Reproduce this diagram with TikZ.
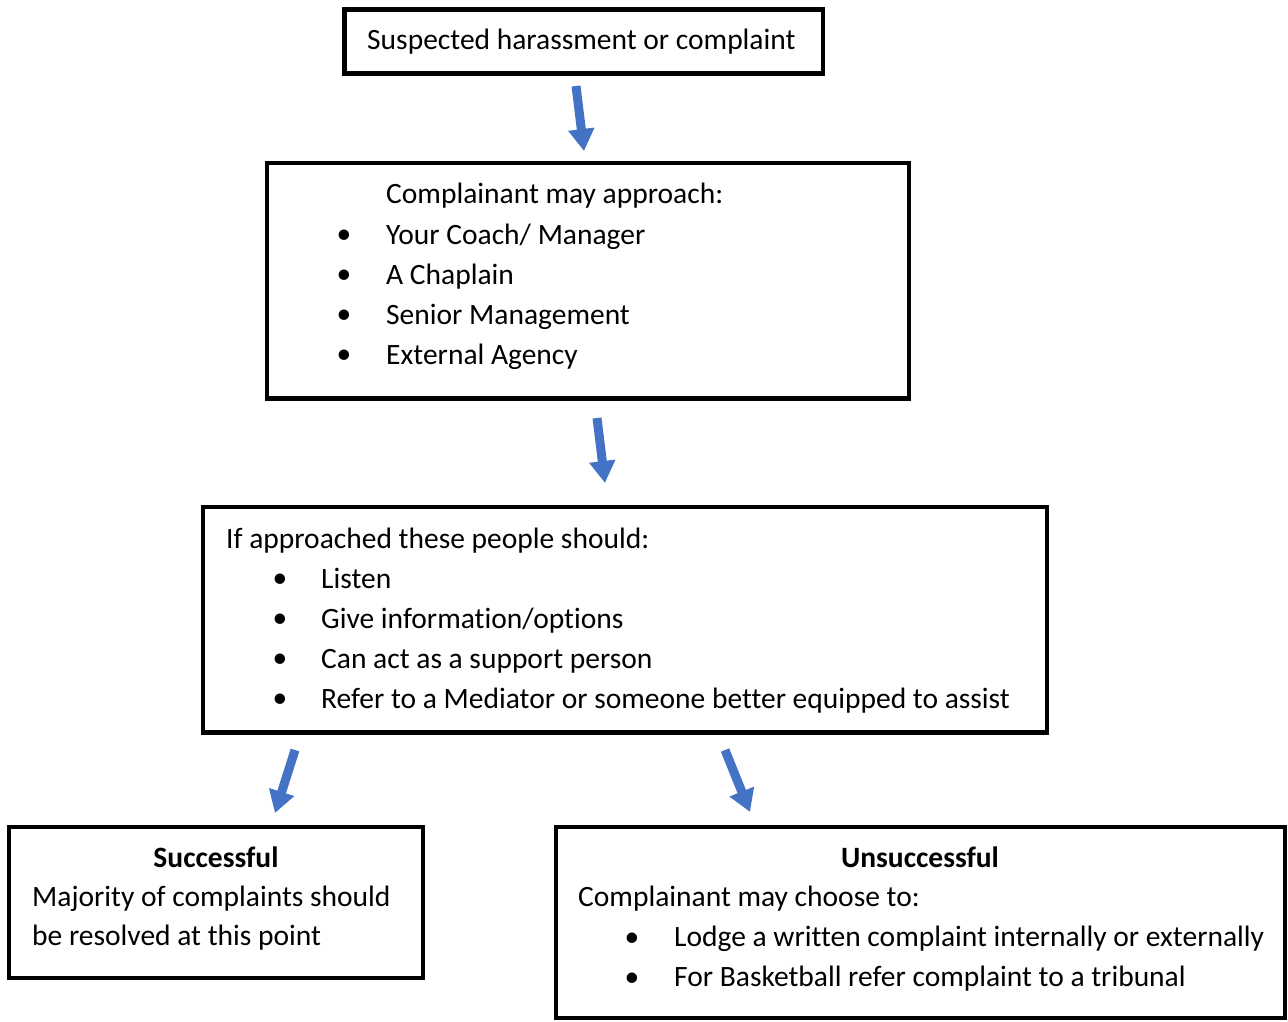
\documentclass[tikz,border=0pt]{standalone}
\usepackage{fontspec}
\setmainfont{Carlito}[Ligatures=NoCommon]
\usetikzlibrary{arrows.meta}
\definecolor{arrowblue}{HTML}{4472C4}

\begin{document}
\begin{tikzpicture}[x=1pt,y=-1pt,
      font=\fontsize{29.5}{40}\selectfont,
      box/.style={draw,line width=4.5pt,rectangle,anchor=north west,inner sep=0pt,outer sep=0pt},
      txt/.style={anchor=base west,inner sep=0pt},
      dot/.style={anchor=base,inner sep=0pt},
      flow/.style={draw=arrowblue,line width=9pt,-{Triangle[length=22pt,width=25pt]}}]
      \useasboundingbox (0,0) rectangle (1288,1021);
      \node[box,minimum width=478.5pt,minimum height=64pt] (start) at (344.5,9.5) {};
      \node[box,minimum width=642pt,minimum height=235.5pt] (approach) at (267,163) {};
      \node[box,minimum width=844pt,minimum height=225.5pt] (should) at (203,507) {};
      \node[box,minimum width=414pt,minimum height=151pt] (success) at (9,827) {};
      \node[box,minimum width=729pt,minimum height=191pt] (fail) at (556,827) {};

      \node[txt] (t1) at (367,49) {Suspected harassment or complaint};

      \node[txt] (a0) at (386,203) {Complainant may approach:};
      \node[dot] at (344,243) {•}; \node[txt] (a1) at (386,244) {Your Coach/ Manager};
      \node[dot] at (344,283) {•}; \node[txt] (a2) at (386,284) {A Chaplain};
      \node[dot] at (344,323) {•}; \node[txt] (a3) at (386,324) {Senior Management};
      \node[dot] at (344,363) {•}; \node[txt] (a4) at (386,364) {External Agency};

      \node[txt] (s0) at (226,548) {If approached these people should:};
      \node[dot] at (280,587) {•}; \node[txt] (s1) at (321,588) {Listen};
      \node[dot] at (280,627) {•}; \node[txt] (s2) at (321,628) {Give information/options};
      \node[dot] at (280,667) {•}; \node[txt] (s3) at (321,668) {Can act as a support person};
      \node[dot] at (280,707) {•}; \node[txt] (s4) at (321,708) {Refer to a Mediator or someone better equipped to assist};

      \node[anchor=base,inner sep=0pt] (ok) at (216,867) {\textbf{Successful}};
      \node[txt] (ok1) at (32,906) {Majority of complaints should};
      \node[txt] (ok2) at (32,945) {be resolved at this point};

      \node[anchor=base,inner sep=0pt] (no) at (920,867) {\textbf{Unsuccessful}};
      \node[txt] (no0) at (578,906) {Complainant may choose to:};
      \node[dot] at (632,946) {•}; \node[txt] (no1) at (674,946) {Lodge a written complaint internally or externally};
      \node[dot] at (632,986) {•}; \node[txt] (no2) at (674,986) {For Basketball refer complaint to a tribunal};

      \coordinate (p1) at (576,86);  \coordinate (q1) at (584,151);
      \coordinate (p2) at (597,418); \coordinate (q2) at (605,483);
      \coordinate (p3) at (295,750); \coordinate (q3) at (275,813);
      \coordinate (p4) at (725,750); \coordinate (q4) at (750,812);
      \draw[flow] (p1) -- (q1);
      \draw[flow] (p2) -- (q2);
      \draw[flow] (p3) -- (q3);
      \draw[flow] (p4) -- (q4);
\end{tikzpicture}
\end{document}
